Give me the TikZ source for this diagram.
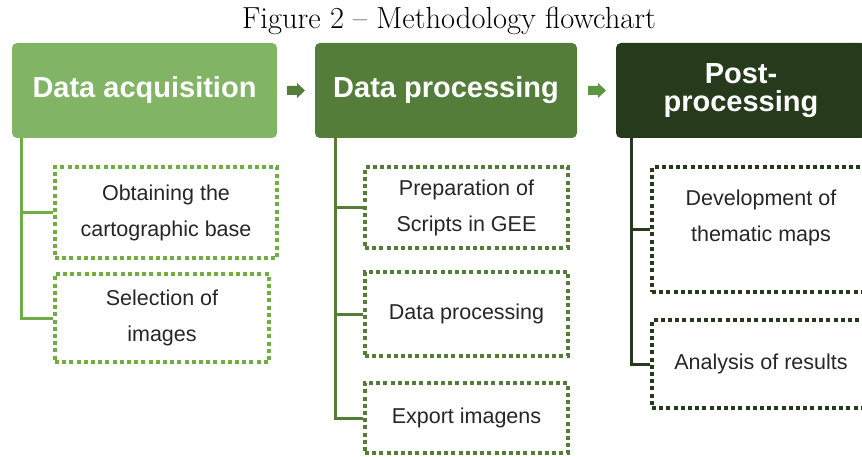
\documentclass[tikz,border=0pt]{standalone}
\usepackage{fontspec}
\setsansfont{Liberation Sans}
\usepackage{tikz}
\usepackage{xcolor}

\definecolor{acqgreen}{RGB}{129,180,100}
\definecolor{procgreen}{RGB}{84,125,58}
\definecolor{postgreen}{RGB}{38,59,28}
\definecolor{dotgreen}{RGB}{112,173,71}
\definecolor{arrowgreen}{RGB}{92,150,66}
\definecolor{subtext}{RGB}{38,38,38}

\tikzset{
    header/.style={rounded corners=5pt, minimum height=95pt, inner sep=0pt, align=center,
        text=white, font=\sffamily\bfseries\fontsize{29}{28}\selectfont},
    subbox/.style={draw=#1, line width=3.5pt, dash pattern=on 4pt off 3.2pt, minimum width=203pt,
        inner sep=0pt, align=center, text=subtext, font=\sffamily\fontsize{21.5}{36}\selectfont},
    branch/.style={draw=#1, line width=3pt}
}
% block arrow drawn round a coordinate
\newcommand{\stepArrow}[2]{%
    \fill[#2] (#1) ++(-9,-4.5) -- ++(10,0) -- ++(0,-3) -- ++(8,7.5) -- ++(-8,7.5) -- ++(0,-3) -- ++(-10,0) -- cycle;}

\begin{document}
\begin{tikzpicture}[x=1pt, y=-1pt]
    \useasboundingbox (0,0) rectangle (862,457);
    \clip (0,0) rectangle (862,457);
    \node[font=\fontsize{30.5}{32}\selectfont] (title) at (449,21) {Figure 2 \textendash{} Methodology flowchart};
    % header boxes
    \node[header, fill=acqgreen, minimum width=265pt] (acq) at (144.5,90.5) {Data acquisition};
    \node[header, fill=procgreen, minimum width=262pt] (proc) at (446,90.5) {Data processing};
    \node[header, fill=postgreen, minimum width=250pt] (post) at (741,90.5) {Post-\\processing};
    \coordinate (arr1) at (296,90.5);
    \coordinate (arr2) at (597,90.5);
    \stepArrow{arr1}{procgreen}
    \stepArrow{arr2}{arrowgreen}
    % sub steps
    \node[subbox=dotgreen, minimum width=222pt, minimum height=91pt] (obt) at (166,212.5) {Obtaining the\\cartographic base};
    \node[subbox=dotgreen, minimum width=214pt, minimum height=88pt] (sel) at (162,318) {Selection of\\images};
    \node[subbox=procgreen, minimum height=81pt] (prep) at (466.5,207.5) {Preparation of\\Scripts in GEE};
    \node[subbox=procgreen, minimum height=84pt] (dproc) at (466.5,314) {Data processing};
    \node[subbox=procgreen, minimum height=70pt] (expo) at (466.5,418) {Export imagens};
    \node[subbox=postgreen, minimum width=218pt, minimum height=125pt] (dev) at (761,229.5) {Development of\\thematic maps\\[-8pt]};
    \node[subbox=postgreen, minimum width=218pt, minimum height=88pt] (ana) at (761,364) {Analysis of results};
    % branches
    \draw[branch=dotgreen] ([xshift=10pt]acq.south west) |- (obt.west);
    \draw[branch=dotgreen] ([xshift=10pt]acq.south west) |- (sel.west);
    \draw[branch=procgreen] ([xshift=21pt]proc.south west) |- (prep.west);
    \draw[branch=procgreen] ([xshift=21pt]proc.south west) |- (dproc.west);
    \draw[branch=procgreen] ([xshift=21pt]proc.south west) |- (expo.west);
    \draw[branch=postgreen] ([xshift=16pt]post.south west) |- (dev.west);
    \draw[branch=postgreen] ([xshift=16pt]post.south west) |- (ana.west);
\end{tikzpicture}
\end{document}
